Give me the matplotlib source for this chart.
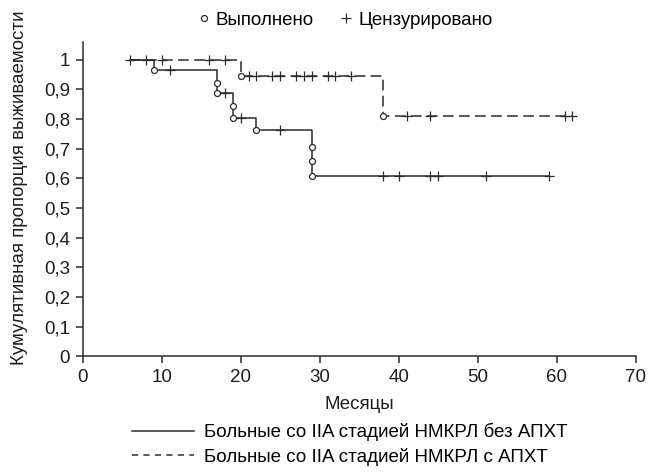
import matplotlib.pyplot as plt
from matplotlib.lines import Line2D
import numpy as np

plt.rcParams["font.family"] = ["Liberation Sans", "DejaVu Sans"]

# Без АПХТ: события (время, доля после события) и цензурированные наблюдения
no_chemo_start = 6
no_chemo_end = 59
no_chemo_event_t = [9, 17, 17, 19, 19, 22, 29, 29, 29]
no_chemo_event_s = [0.964, 0.922, 0.887, 0.845, 0.804, 0.761, 0.707, 0.658, 0.608]
no_chemo_cens = [11, 18, 20, 25, 38, 40, 44, 45, 51, 59]

# С АПХТ
chemo_start = 6
chemo_end = 62
chemo_event_t = [20, 38]
chemo_event_s = [0.945, 0.809]
chemo_cens = [6, 8, 10, 16, 18, 21, 22, 24, 25, 27, 28, 29, 31, 32, 34, 41, 44, 61, 62]

label_no_chemo = "Больные со IIA стадией НМКРЛ без АПХТ"
label_chemo = "Больные со IIA стадией НМКРЛ с АПХТ"

x_ticks = [0, 10, 20, 30, 40, 50, 60, 70]
y_ticks = [0, 0.1, 0.2, 0.3, 0.4, 0.5, 0.6, 0.7, 0.8, 0.9, 1.0]

col = "#2b2b2b"
txt = "#1e1e1e"
fs = 13.5


def km_steps(start, end, ev_t, ev_s):
    t = np.concatenate([[start], ev_t, [end]])
    s = np.concatenate([[1.0], ev_s, [ev_s[-1]]])
    return t, s


def surv_at(t_points, ev_t, ev_s):
    idx = np.searchsorted(ev_t, t_points, side="right")
    s = np.concatenate([[1.0], ev_s])
    return s[idx]


fig = plt.figure(figsize=(6.56, 4.74), dpi=100)
ax = fig.add_axes([0.126, 0.248, 0.843, 0.664])

for start, end, ev_t, ev_s, cens, ls in [
    (no_chemo_start, no_chemo_end, no_chemo_event_t, no_chemo_event_s, no_chemo_cens, "-"),
    (chemo_start, chemo_end, chemo_event_t, chemo_event_s, chemo_cens, (0, (7, 3.5))),
]:
    t, s = km_steps(start, end, ev_t, ev_s)
    ax.step(t, s, where="post", color=col, lw=1.1, linestyle=ls, zorder=2)
    ax.plot(cens, surv_at(np.array(cens), np.array(ev_t), np.array(ev_s)),
            "+", color=col, ms=7, mew=0.9, zorder=3)
    ax.plot(ev_t, ev_s, "o", mfc="white", mec=col, ms=4.3, mew=0.9, zorder=4)

ax.set_xlim(0, 70)
ax.set_ylim(0, 1.06)
ax.set_xticks(x_ticks)
ax.set_yticks(y_ticks)
ax.set_yticklabels([("%g" % v).replace(".", ",") for v in y_ticks])
ax.spines["top"].set_visible(False)
ax.spines["right"].set_visible(False)
for sp in ("left", "bottom"):
    ax.spines[sp].set_color(col)
    ax.spines[sp].set_linewidth(1.1)
ax.tick_params(colors=col, labelcolor=txt, labelsize=fs, length=5, width=1.1, pad=4)
ax.set_xlabel("Месяцы", fontsize=fs, color=txt, va="top")
ax.xaxis.set_label_coords(0.5, -0.126)
ax.set_ylabel("Кумулятивная пропорция выживаемости", fontsize=fs, color=txt)
ax.yaxis.set_label_coords(-0.098, 0.535)

top_handles = [
    Line2D([], [], marker="o", ls="none", mfc="white", mec=col, ms=4.3, mew=0.9),
    Line2D([], [], marker="+", ls="none", color=col, ms=7, mew=0.9),
]
fig.legend(top_handles, ["Выполнено", "Цензурировано"], loc="center left",
           bbox_to_anchor=(0.302, 0.957), ncol=2, frameon=False, fontsize=fs,
           handlelength=0.6, handletextpad=0.35, columnspacing=1.4,
           borderpad=0, borderaxespad=0)

bottom_handles = [
    Line2D([], [], color=col, lw=1.1),
    Line2D([], [], color=col, lw=1.1, ls=(0, (4, 3.5))),
]
fig.legend(bottom_handles, [label_no_chemo, label_chemo], loc="center left",
           bbox_to_anchor=(0.2008, 0.062), ncol=1, frameon=False, fontsize=fs,
           handlelength=3.33, handletextpad=0.55, labelspacing=0.35,
           borderpad=0, borderaxespad=0)

plt.savefig("out.png", dpi=100)
